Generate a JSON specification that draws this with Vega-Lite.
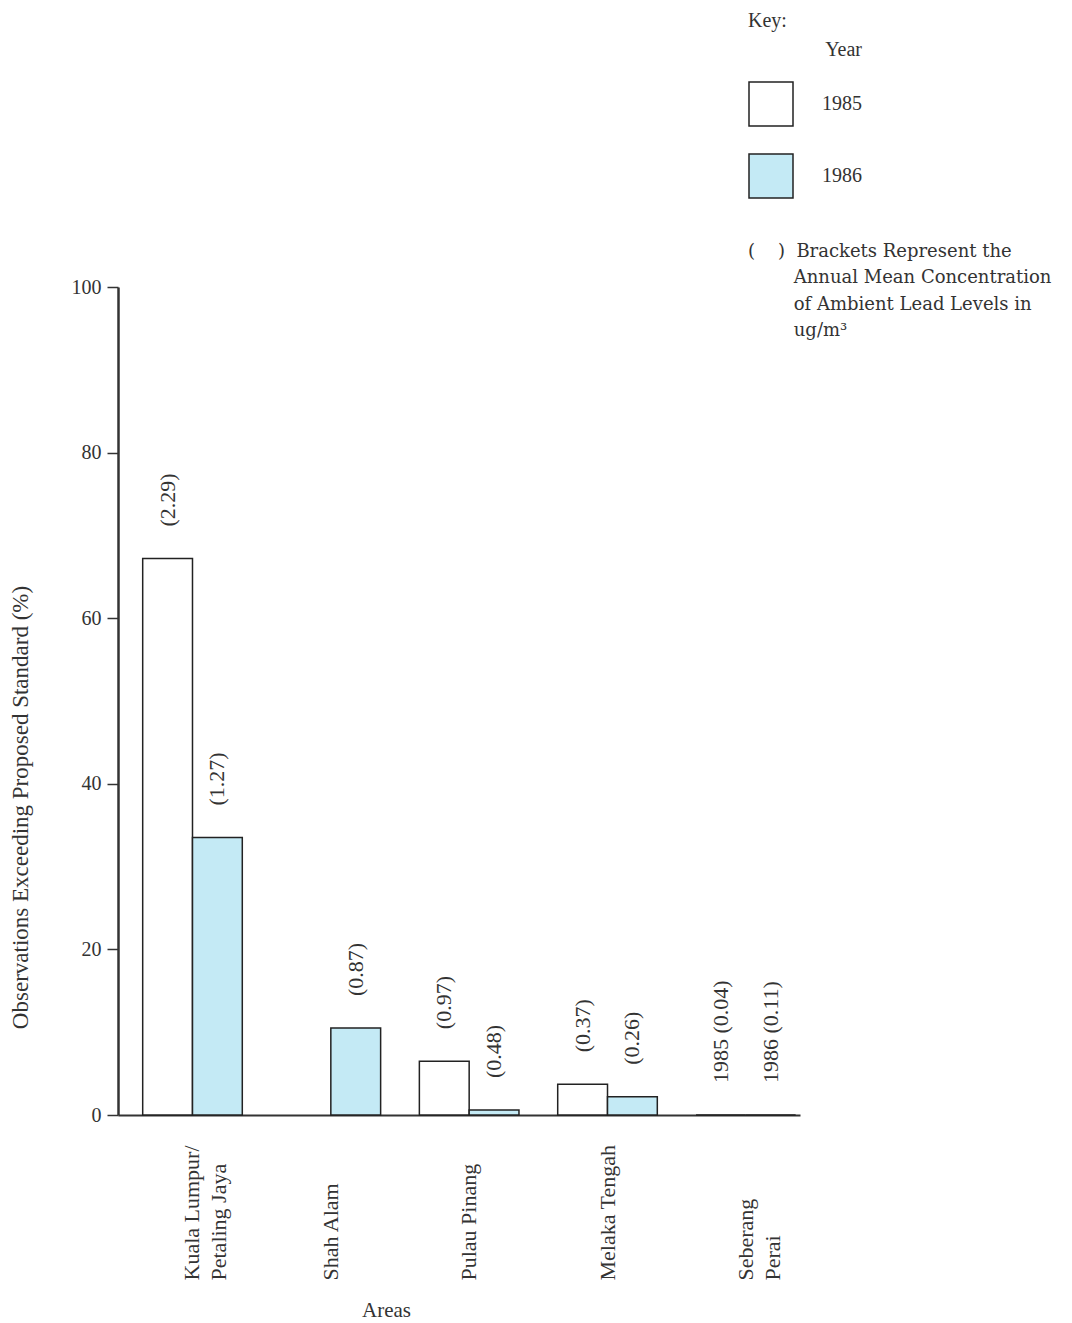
{
  "$schema": "https://vega.github.io/schema/vega-lite/v6.json",
  "autosize": {"type": "none"},
  "width": 682,
  "height": 828,
  "padding": {"left": 118, "top": 287, "right": 272, "bottom": 208},
  "background": "white",
  "title": {
    "text": "Key:",
    "subtitle": [
      "(\u00a0\u00a0\u00a0\u00a0)\u00a0\u00a0Brackets Represent the",
      "\u200b\u00a0\u00a0\u00a0\u00a0\u00a0\u00a0\u00a0\u00a0Annual Mean Concentration",
      "\u200b\u00a0\u00a0\u00a0\u00a0\u00a0\u00a0\u00a0\u00a0of Ambient Lead Levels in",
      "\u200b\u00a0\u00a0\u00a0\u00a0\u00a0\u00a0\u00a0\u00a0ug/m³"
    ],
    "anchor": "start",
    "frame": "group",
    "orient": "top",
    "dx": 630,
    "offset": -300,
    "font": "Liberation Serif",
    "fontSize": 20,
    "fontWeight": "normal",
    "color": "#333333",
    "subtitleFont": "DejaVu Serif",
    "subtitleFontSize": 18,
    "subtitleColor": "#333333",
    "subtitlePadding": 212,
    "subtitleLineHeight": 26.5
  },
  "data": {
    "values": [
      {"area": "Kuala Lumpur/Petaling Jaya", "year": "1985", "pct": 67.2, "conc": "(2.29)"},
      {"area": "Kuala Lumpur/Petaling Jaya", "year": "1986", "pct": 33.5, "conc": "(1.27)"},
      {"area": "Shah Alam", "year": "1986", "pct": 10.5, "conc": "(0.87)"},
      {"area": "Pulau Pinang", "year": "1985", "pct": 6.5, "conc": "(0.97)"},
      {"area": "Pulau Pinang", "year": "1986", "pct": 0.6, "conc": "(0.48)"},
      {"area": "Melaka Tengah", "year": "1985", "pct": 3.7, "conc": "(0.37)"},
      {"area": "Melaka Tengah", "year": "1986", "pct": 2.2, "conc": "(0.26)"},
      {"area": "Seberang Perai", "year": "1985", "pct": 0, "conc": "1985 (0.04)"},
      {"area": "Seberang Perai", "year": "1986", "pct": 0, "conc": "1986 (0.11)"}
    ]
  },
  "encoding": {
    "x": {
      "field": "area",
      "type": "nominal",
      "sort": ["Kuala Lumpur/Petaling Jaya", "Shah Alam", "Pulau Pinang", "Melaka Tengah", "Seberang Perai"],
      "scale": {"paddingInner": 0.28, "paddingOuter": 0.105, "align": 0.85},
      "axis": {
        "title": "Areas",
        "titleX": 268,
        "titleY": 195,
        "titleAlign": "center",
        "titleBaseline": "middle",
        "titleFont": "Liberation Serif",
        "titleFontSize": 21,
        "titleFontWeight": "normal",
        "titleColor": "#333333",
        "labelAngle": 270,
        "labelAlign": "left",
        "labelBaseline": "middle",
        "labelPadding": 165,
        "labelFont": "Liberation Serif",
        "labelFontSize": 22,
        "labelColor": "#333333",
        "labelLineHeight": 27,
        "labelExpr": "datum.value == 'Kuala Lumpur/Petaling Jaya' ? ['Kuala Lumpur/', 'Petaling Jaya'] : datum.value == 'Seberang Perai' ? ['Seberang', 'Perai'] : datum.value",
        "ticks": false,
        "domainColor": "#333333",
        "domainWidth": 2
      }
    },
    "xOffset": {"field": "year", "type": "nominal", "scale": {"domain": ["1985", "1986"]}},
    "y": {
      "field": "pct",
      "type": "quantitative",
      "scale": {"domain": [0, 100], "nice": false},
      "axis": {
        "title": "Observations Exceeding Proposed Standard (%)",
        "titleX": -98,
        "titleY": 520,
        "titleAngle": 270,
        "titleAlign": "center",
        "titleBaseline": "middle",
        "titleFont": "Liberation Serif",
        "titleFontSize": 23,
        "titleFontWeight": "normal",
        "titleColor": "#333333",
        "values": [0, 20, 40, 60, 80, 100],
        "grid": false,
        "tickSize": 11,
        "tickColor": "#333333",
        "tickWidth": 1.5,
        "labelPadding": 6,
        "labelFont": "Liberation Serif",
        "labelFontSize": 20,
        "labelColor": "#333333",
        "domainColor": "#333333",
        "domainWidth": 2.5
      }
    }
  },
  "layer": [
    {
      "mark": {"type": "bar", "stroke": "#222222", "strokeWidth": 1.5},
      "encoding": {
        "fill": {
          "field": "year",
          "type": "nominal",
          "scale": {"domain": ["1985", "1986"], "range": ["#ffffff", "#c4eaf5"]},
          "legend": {
            "title": "Year",
            "orient": "none",
            "legendX": 630,
            "legendY": -247,
            "titleAnchor": "end",
            "titleFont": "Liberation Serif",
            "titleFontSize": 20,
            "titleFontWeight": "normal",
            "titleColor": "#333333",
            "titlePadding": 21,
            "symbolType": "square",
            "symbolSize": 1936,
            "symbolStrokeColor": "#222222",
            "symbolStrokeWidth": 1.5,
            "labelFont": "Liberation Serif",
            "labelFontSize": 20,
            "labelColor": "#333333",
            "labelOffset": 28,
            "rowPadding": 22
          }
        }
      }
    },
    {
      "mark": {
        "type": "text",
        "angle": 270,
        "align": "left",
        "baseline": "middle",
        "dx": 32,
        "font": "Liberation Serif",
        "fontSize": 22,
        "color": "#333333"
      },
      "encoding": {"text": {"field": "conc"}}
    }
  ],
  "config": {"view": {"stroke": null}}
}
